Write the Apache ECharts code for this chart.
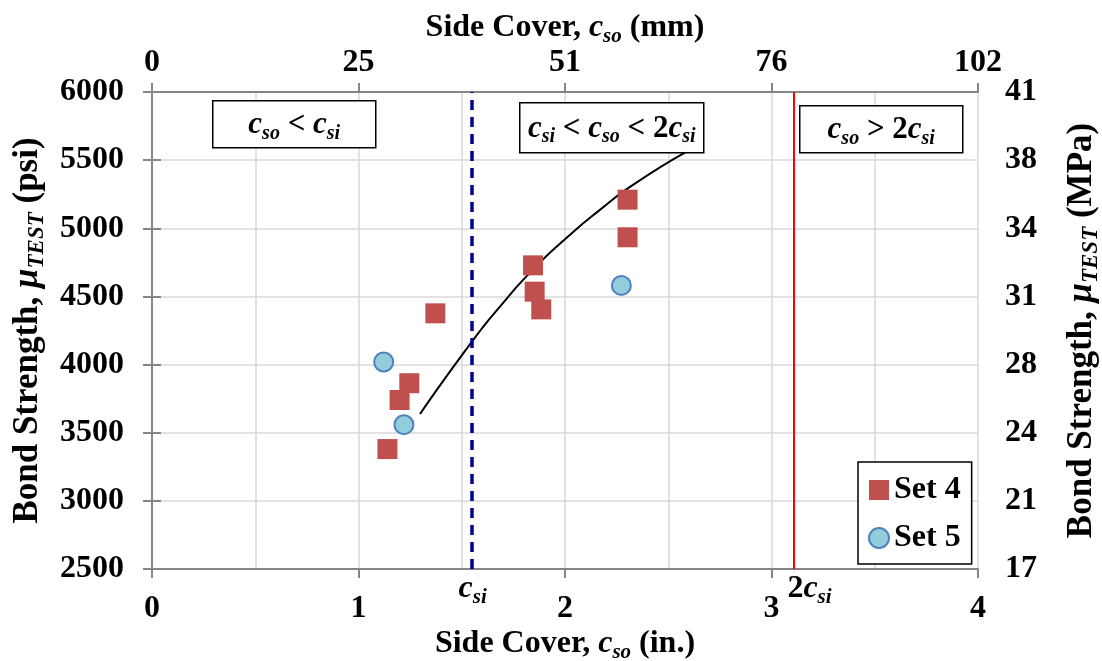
<!DOCTYPE html>
<html><head><meta charset="utf-8">
<script src="https://cdn.jsdelivr.net/npm/echarts@6/dist/echarts.min.js"></script>
<style>html,body{margin:0;padding:0;background:#fff;overflow:hidden}#c{position:absolute;left:0;top:0;width:1102px;height:661px}</style>
</head><body><div id="c"></div>
<script>
// ---- data ----
const set4X = [1.140, 1.199, 1.246, 1.372, 1.845, 1.853, 1.885, 2.303, 2.303];
const set4Y = [3380, 3740, 3863, 4376, 4728, 4535, 4405, 5210, 4934];
const set5X = [1.122, 1.220, 2.273];
const set5Y = [4019, 3559, 4581];
const trendX = [1.298, 1.553, 1.685, 1.847, 2.008, 2.169, 2.331, 2.581];
const trendY = [3637, 4175, 4425, 4700, 4930, 5135, 5320, 5555];
const cSi = 1.553;
const inTicks = ['0', '1', '2', '3', '4'];
const mmTicks = ['0', '25', '51', '76', '102'];
const psiTicks = ['2500', '3000', '3500', '4000', '4500', '5000', '5500', '6000'];
const mpaTicks = ['17', '21', '24', '28', '31', '34', '38', '41'];

// ---- styles ----
const SERIF = '"Liberation Serif", "Times New Roman", serif';
const FS = 32, SUB = 21;
function richSet(fs, sub, lh, pad) {
  return {
    b: {fontFamily: SERIF, fontWeight: 'bold', fontSize: fs, lineHeight: lh, color: '#000'},
    i: {fontFamily: SERIF, fontWeight: 'bold', fontStyle: 'italic', fontSize: fs, lineHeight: lh, color: '#000'},
    s: {fontFamily: SERIF, fontWeight: 'bold', fontStyle: 'italic', fontSize: sub, lineHeight: lh - pad, padding: [pad, 0, 0, 0], color: '#000'}
  };
}
const RICH = richSet(FS, SUB, 36, 17);
const VRICH = richSet(35, 23, 40, 19);
const BOXRICH = richSet(31, 20, 36, 17);
const AXC = '#868686', GRC = '#d9d9d9';
const labelStyle = {fontFamily: SERIF, fontWeight: 'bold', fontSize: FS, color: '#000'};

const chart = echarts.init(document.getElementById('c'), null, {renderer: 'canvas', width: 1102, height: 661});
const seriesPts = (xs, ys) => xs.map((x, k) => [x, ys[k]]);

const option = {
  animation: false,
  backgroundColor: '#fff',
  grid: {left: 152, right: 124, top: 92, bottom: 92, containLabel: false, outerBoundsMode: 'none'},
  legend: {
    data: ['Set 4', 'Set 5'], orient: 'vertical', left: 858, top: 462,
    backgroundColor: '#fff', borderColor: '#000', borderWidth: 1.5,
    padding: [12, 11, 10, 10], itemGap: 16, itemWidth: 20, itemHeight: 20,
    textStyle: {fontFamily: SERIF, fontWeight: 'bold', fontSize: FS, color: '#000'}
  },
  xAxis: [{
    type: 'value', position: 'bottom', min: 0, max: 4, interval: 1,
    axisLine: {show: true, lineStyle: {color: AXC, width: 2}},
    axisTick: {show: true, inside: false, length: 9, lineStyle: {color: AXC, width: 2}},
    axisLabel: Object.assign({margin: 24, formatter: v => inTicks[Math.round(v)]}, labelStyle),
    splitLine: {show: true, lineStyle: {color: GRC, width: 1.5}},
    minorTick: {show: false, splitNumber: 2},
    minorSplitLine: {show: true, lineStyle: {color: GRC, width: 1.5}},
    name: '{b|Side Cover, }{i|c}{s|so}{b| (in.)}', nameLocation: 'middle', nameGap: 57, nameMoveOverlap: false,
    nameTextStyle: {rich: RICH}
  }, {
    type: 'value', position: 'top', min: 0, max: 4, interval: 1,
    axisLine: {show: true, lineStyle: {color: AXC, width: 2}},
    axisTick: {show: true, inside: false, length: 9, lineStyle: {color: AXC, width: 2}},
    axisLabel: Object.assign({margin: 13, formatter: v => mmTicks[Math.round(v)]}, labelStyle),
    splitLine: {show: false},
    name: '{b|Side Cover, }{i|c}{s|so}{b| (mm)}', nameLocation: 'middle', nameGap: 46, nameMoveOverlap: false,
    nameTextStyle: {rich: RICH}
  }],
  yAxis: [{
    type: 'value', position: 'left', min: 2500, max: 6000, interval: 500,
    axisLine: {show: true, lineStyle: {color: AXC, width: 2}},
    axisTick: {show: true, inside: false, length: 9, lineStyle: {color: AXC, width: 2}},
    axisLabel: Object.assign({margin: 28, formatter: v => psiTicks[Math.round((v - 2500) / 500)]}, labelStyle),
    splitLine: {show: true, lineStyle: {color: GRC, width: 1.5}},
    name: '{b|Bond Strength, }{i|μ}{s|TEST}{b| (psi)}', nameLocation: 'middle', nameGap: 104, nameRotate: 90, nameMoveOverlap: false,
    nameTextStyle: {rich: VRICH}
  }, {
    type: 'value', position: 'right', min: 2500, max: 6000, interval: 500,
    axisLine: {show: true, lineStyle: {color: AXC, width: 2}},
    axisTick: {show: true, inside: false, length: 9, lineStyle: {color: AXC, width: 2}},
    axisLabel: Object.assign({margin: 27, formatter: v => mpaTicks[Math.round((v - 2500) / 500)]}, labelStyle),
    splitLine: {show: false},
    name: '{b|Bond Strength, }{i|μ}{s|TEST}{b| (MPa)}', nameLocation: 'middle', nameGap: 84, nameRotate: 90, nameMoveOverlap: false,
    nameTextStyle: {rich: VRICH}
  }],
  series: [{
    name: 'limits', type: 'line', data: [], xAxisIndex: 0, yAxisIndex: 0, silent: true,
    markLine: {
      silent: true, symbol: ['none', 'none'], animation: false, label: {show: false},
      data: [
        {xAxis: cSi, lineStyle: {color: '#000090', width: 3.5, type: [10, 7]}},
        {xAxis: 2 * cSi, lineStyle: {color: '#ff0000', width: 2, type: 'solid'}}
      ]
    }
  }, {
    name: 'trend', type: 'line', data: seriesPts(trendX, trendY), smooth: 0.6, showSymbol: false, silent: true,
    lineStyle: {color: '#000', width: 2}, z: 3
  }, {
    name: 'Set 4', type: 'scatter', data: seriesPts(set4X, set4Y), symbol: 'rect', symbolSize: 20,
    itemStyle: {color: '#c0504d', opacity: 1}, z: 4
  }, {
    name: 'Set 5', type: 'scatter', data: seriesPts(set5X, set5Y), symbol: 'circle', symbolSize: 19,
    itemStyle: {color: '#92cddc', borderColor: '#4f81bd', borderWidth: 2, opacity: 1}, z: 4
  }]
};
chart.setOption(option);

function box(left, top, w, h, text) {
  return {
    type: 'group', left: left, top: top, z: 50,
    children: [
      {type: 'rect', shape: {x: 0, y: 0, width: w, height: h}, style: {fill: '#fff', stroke: '#000', lineWidth: 1.5}},
      {type: 'text', x: w / 2, y: h / 2 + 1, style: {text: text, rich: BOXRICH, align: 'center', verticalAlign: 'middle'}}
    ]
  };
}
const yBase = chart.convertToPixel({yAxisIndex: 0}, 2500);
const xc1 = chart.convertToPixel({xAxisIndex: 0}, cSi);
const xc2 = chart.convertToPixel({xAxisIndex: 0}, 2 * cSi);
chart.setOption({
  graphic: [
    box(212, 100, 163, 47, '{i|c}{s|so}{b| < }{i|c}{s|si}'),
    box(519, 102, 184, 50, '{i|c}{s|si}{b| < }{i|c}{s|so}{b| < 2}{i|c}{s|si}'),
    box(799, 105, 163, 47, '{i|c}{s|so}{b| > 2}{i|c}{s|si}'),
    {type: 'text', x: xc1, y: yBase + 2, z: 50, style: {text: '{i|c}{s|si}', rich: RICH, align: 'center', verticalAlign: 'top'}},
    {type: 'text', x: xc2 - 6, y: yBase + 2, z: 50, style: {text: '{b|2}{i|c}{s|si}', rich: RICH, align: 'left', verticalAlign: 'top'}}
  ]
});
</script>
</body></html>
